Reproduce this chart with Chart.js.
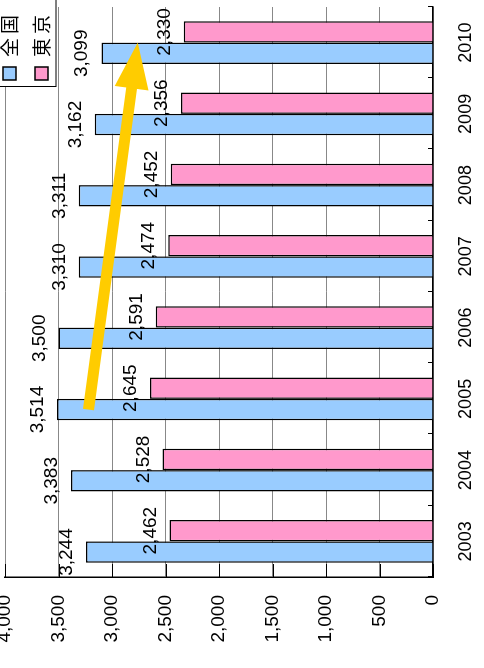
<!DOCTYPE html>
<html>
<head>
<meta charset="utf-8">
<script src="https://cdn.jsdelivr.net/npm/chart.js@4/dist/chart.umd.min.js"></script>
<style>
  html, body { margin: 0; padding: 0; background: #fff; overflow: hidden; }
  #wrap {
    position: absolute; left: 0; top: 0;
    width: 668px; height: 484px;
    transform-origin: 0 0;
    transform: translateY(668px) rotate(-90deg);
  }
</style>
</head>
<body>
<div id="wrap"><canvas id="chart" width="668" height="484"></canvas></div>
<script>
// data
const years = ["2003", "2004", "2005", "2006", "2007", "2008", "2009", "2010"];
const zenkoku = [3244, 3383, 3514, 3500, 3310, 3311, 3162, 3099];
const tokyo = [2462, 2528, 2645, 2591, 2474, 2452, 2356, 2330];
const seriesNames = ["全国", "東京"];
const seriesColors = ["#99CCFF", "#FF99CC"];
const valueMax = 4000;
const valueStep = 500;
// yellow arrow: from the 全国 bar of 2005 to the middle of 2010
const arrowFrom = { year: "2005", value: 3220 };
const arrowTo = { year: "2010", value: 2760 };

const FONT = "'Liberation Sans', Arial, sans-serif";

const labelPlugin = {
  id: "labels",
  afterDatasetsDraw(chart) {
    const ctx = chart.ctx;
    ctx.save();
    ctx.fillStyle = "#000";
    ctx.font = "19px " + FONT;
    ctx.textAlign = "center";
    ctx.textBaseline = "alphabetic";
    chart.data.datasets.forEach((ds, i) => {
      chart.getDatasetMeta(i).data.forEach((bar, j) => {
        ctx.fillText(ds.data[j].toLocaleString("en-US"), bar.x, bar.y - 14);
      });
    });
    ctx.restore();
  },
};

const extrasPlugin = {
  id: "extras",
  afterDraw(chart) {
    const ctx = chart.ctx;
    const area = chart.chartArea;
    const xs = chart.scales.x;
    const ys = chart.scales.y;
    ctx.save();

    // inner ticks
    ctx.strokeStyle = "#000";
    ctx.lineWidth = 1;
    for (let v = 0; v <= valueMax; v += valueStep) {
      const py = Math.round(ys.getPixelForValue(v)) + 0.5;
      ctx.beginPath();
      ctx.moveTo(area.left, py);
      ctx.lineTo(area.left + 13, py);
      ctx.stroke();
    }
    const cw = (area.right - area.left) / years.length;
    for (let i = 0; i <= years.length; i++) {
      const px = Math.round(area.left + i * cw) + 0.5;
      ctx.beginPath();
      ctx.moveTo(px, area.bottom);
      ctx.lineTo(px, area.bottom - 5);
      ctx.stroke();
    }

    // arrow
    const meta0 = chart.getDatasetMeta(0);
    const x1 = meta0.data[years.indexOf(arrowFrom.year)].x;
    const y1 = ys.getPixelForValue(arrowFrom.value);
    const x2 = xs.getPixelForValue(years.indexOf(arrowTo.year));
    const y2 = ys.getPixelForValue(arrowTo.value);
    const ang = Math.atan2(y2 - y1, x2 - x1);
    const headLen = 46, headHalf = 17;
    const bx = x2 - headLen * Math.cos(ang);
    const by = y2 - headLen * Math.sin(ang);
    ctx.strokeStyle = "#FFCC00";
    ctx.fillStyle = "#FFCC00";
    ctx.lineWidth = 11;
    ctx.lineCap = "butt";
    ctx.beginPath();
    ctx.moveTo(x1, y1);
    ctx.lineTo(bx + 2 * Math.cos(ang), by + 2 * Math.sin(ang));
    ctx.stroke();
    ctx.beginPath();
    ctx.moveTo(x2, y2);
    ctx.lineTo(bx - headHalf * Math.sin(ang), by + headHalf * Math.cos(ang));
    ctx.lineTo(bx + headHalf * Math.sin(ang), by - headHalf * Math.cos(ang));
    ctx.closePath();
    ctx.fill();

    // legend box in the corner
    const lx = 581, ly = -2;
    ctx.fillStyle = "#fff";
    ctx.fillRect(lx, ly, 100, 58);
    ctx.strokeStyle = "#000";
    ctx.lineWidth = 1;
    ctx.strokeRect(lx + 0.5, ly + 0.5, 100, 57.5);
    ctx.font = "19px 'Noto Sans CJK JP', sans-serif";
    ctx.letterSpacing = "4px";
    ctx.textBaseline = "middle";
    ctx.textAlign = "left";
    seriesNames.forEach((name, i) => {
      const cy = 9 + i * 32;
      ctx.fillStyle = seriesColors[i];
      ctx.fillRect(588, cy - 6, 13, 13);
      ctx.strokeStyle = "#000";
      ctx.lineWidth = 1.5;
      ctx.strokeRect(588, cy - 6, 13, 13);
      ctx.fillStyle = "#000";
      ctx.fillText(name, 611, cy + 1);
    });

    ctx.restore();
  },
};

function noScalePadding(scale) {
  scale.paddingTop = 0;
  scale.paddingBottom = 0;
  scale.paddingLeft = 0;
  scale.paddingRight = 0;
}

new Chart(document.getElementById("chart"), {
  type: "bar",
  data: {
    labels: years,
    datasets: [
      {
        label: seriesNames[0],
        data: zenkoku,
        backgroundColor: seriesColors[0],
        borderColor: "#000",
        borderWidth: 1.5,
      },
      {
        label: seriesNames[1],
        data: tokyo,
        backgroundColor: seriesColors[1],
        borderColor: "#000",
        borderWidth: 1.5,
      },
    ],
  },
  options: {
    responsive: false,
    animation: false,
    devicePixelRatio: 1,
    layout: { padding: { top: 5, right: 7, left: 0, bottom: 0 } },
    datasets: { bar: { barPercentage: 1, categoryPercentage: 0.6 } },
    plugins: { legend: { display: false }, tooltip: { enabled: false } },
    scales: {
      x: {
        grid: { display: true, drawOnChartArea: false, drawTicks: false },
        border: { display: true, color: "#000", width: 1.5 },
        ticks: { color: "#000", font: { family: FONT, size: 18 }, padding: 22, maxRotation: 0 },
        afterFit(scale) { scale.height = 51; noScalePadding(scale); },
      },
      y: {
        min: 0,
        max: valueMax,
        grid: { color: "#888", lineWidth: 1, drawTicks: false },
        border: { display: true, color: "#000", width: 1.5 },
        ticks: {
          stepSize: valueStep,
          color: "#000",
          font: { family: FONT, size: 19 },
          padding: 18,
          callback: (v) => v.toLocaleString("en-US"),
        },
        afterFit(scale) { scale.width = 91; noScalePadding(scale); },
      },
    },
  },
  plugins: [labelPlugin, extrasPlugin],
});
</script>
</body>
</html>
